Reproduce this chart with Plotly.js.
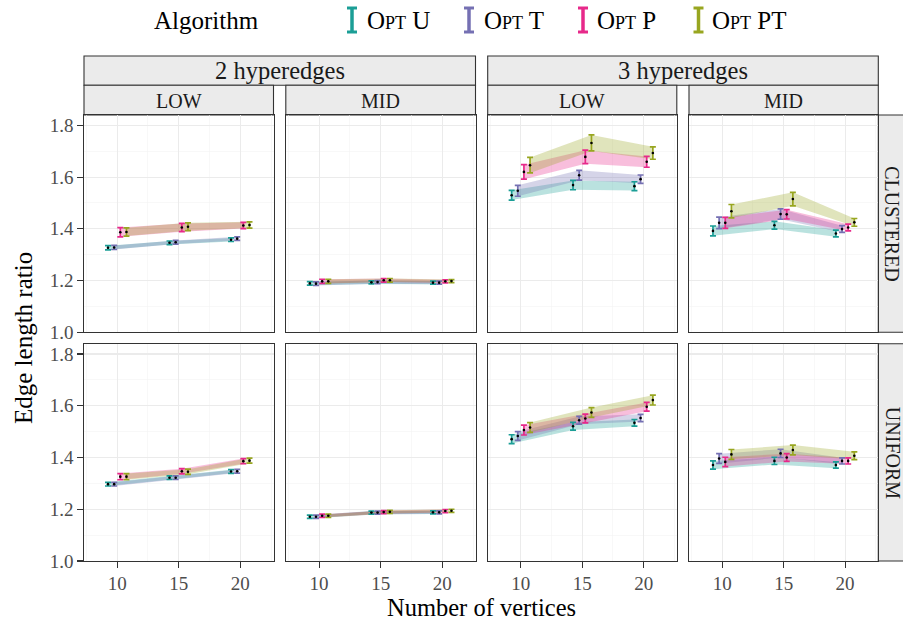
<!DOCTYPE html>
<html><head><meta charset="utf-8">
<script src="https://cdn.plot.ly/plotly-3.0.1.min.js"></script>
<style>html,body{margin:0;padding:0;background:#fff}#plot{width:903px;height:621px}</style>
</head><body><div id="plot"></div>
<script>
// ---------------- data ----------------
const algorithms = ['Opt U', 'Opt T', 'Opt P', 'Opt PT'];
const vertices = [10, 15, 20];
const hyperedgeLabels = ['2 hyperedges', '3 hyperedges'];
const densityLabels = ['LOW', 'MID'];
const distributionLabels = ['CLUSTERED', 'UNIFORM'];
const yTickValues = [1.0, 1.2, 1.4, 1.6, 1.8];
const xTickValues = [10, 15, 20];

// rows = algorithms (U, T, P, PT), columns = vertices (10, 15, 20)
const clustered2LowMean = [[1.327,1.346,1.358],[1.328,1.348,1.362],[1.387,1.405,1.413],[1.388,1.408,1.415]];
const clustered2LowErr  = [[0.008,0.007,0.007],[0.008,0.007,0.007],[0.018,0.016,0.012],[0.016,0.015,0.012]];
const clustered2MidMean = [[1.189,1.193,1.192],[1.188,1.194,1.192],[1.197,1.201,1.197],[1.197,1.201,1.198]];
const clustered2MidErr  = [[0.007,0.006,0.006],[0.007,0.006,0.006],[0.008,0.007,0.006],[0.008,0.007,0.006]];
const clustered3LowMean = [[1.530,1.569,1.565],[1.547,1.607,1.592],[1.620,1.678,1.659],[1.646,1.732,1.693]];
const clustered3LowErr  = [[0.019,0.018,0.017],[0.021,0.019,0.016],[0.028,0.026,0.021],[0.030,0.031,0.024]];
const clustered3MidMean = [[1.392,1.414,1.382],[1.423,1.457,1.399],[1.423,1.456,1.405],[1.468,1.515,1.425]];
const clustered3MidErr  = [[0.019,0.015,0.013],[0.022,0.020,0.013],[0.021,0.018,0.013],[0.026,0.026,0.015]];
const uniform2LowMean = [[1.297,1.322,1.346],[1.297,1.322,1.347],[1.326,1.347,1.386],[1.326,1.345,1.388]];
const uniform2LowErr  = [[0.007,0.007,0.007],[0.007,0.007,0.007],[0.012,0.010,0.010],[0.012,0.010,0.010]];
const uniform2MidMean = [[1.171,1.187,1.188],[1.171,1.187,1.188],[1.175,1.189,1.193],[1.175,1.190,1.194]];
const uniform2MidErr  = [[0.006,0.006,0.006],[0.006,0.006,0.006],[0.006,0.006,0.006],[0.006,0.006,0.006]];
const uniform3LowMean = [[1.471,1.521,1.534],[1.483,1.544,1.553],[1.506,1.551,1.596],[1.516,1.574,1.622]];
const uniform3LowErr  = [[0.017,0.015,0.013],[0.017,0.015,0.014],[0.019,0.017,0.017],[0.019,0.019,0.019]];
const uniform3MidMean = [[1.371,1.387,1.371],[1.396,1.416,1.387],[1.383,1.400,1.387],[1.412,1.429,1.407]];
const uniform3MidErr  = [[0.016,0.014,0.012],[0.019,0.016,0.012],[0.018,0.015,0.012],[0.019,0.019,0.015]];

// ---------------- styling ----------------
const W = 903, H = 621;
const FONT = 'Liberation Serif, Times New Roman, serif';
const colX = [[84,273.5],[285.8,475.5],[487.7,676.8],[689,878.3]];
const rowY = [[115,332.3],[343.7,561]];
const px = x => x / W, py = y => 1 - y / H;
const colors = ['#1B9E96', '#7570B3', '#E7298A', '#98A620'];
const dodge = [-0.75, -0.25, 0.25, 0.75];
function rgba(hex, a) {
  const n = parseInt(hex.slice(1), 16);
  return `rgba(${(n>>16)&255},${(n>>8)&255},${n&255},${a})`;
}

const panels = [
  {r:0,c:0,mean:clustered2LowMean,err:clustered2LowErr},
  {r:0,c:1,mean:clustered2MidMean,err:clustered2MidErr},
  {r:0,c:2,mean:clustered3LowMean,err:clustered3LowErr},
  {r:0,c:3,mean:clustered3MidMean,err:clustered3MidErr},
  {r:1,c:0,mean:uniform2LowMean,err:uniform2LowErr},
  {r:1,c:1,mean:uniform2MidMean,err:uniform2MidErr},
  {r:1,c:2,mean:uniform3LowMean,err:uniform3LowErr},
  {r:1,c:3,mean:uniform3MidMean,err:uniform3MidErr},
];

const traces = [];
const layout = {
  width: W, height: H,
  margin: {l:0, r:0, t:0, b:0},
  paper_bgcolor: '#fff', plot_bgcolor: '#fff',
  showlegend: false,
  font: {family: FONT, color: '#000'},
  shapes: [], annotations: []
};

panels.forEach(p => {
  const k = p.r * 4 + p.c + 1;
  const xa = 'x' + k, ya = 'y' + k;
  // ribbons
  algorithms.forEach((alg, i) => {
    const xs = vertices.map(v => v + dodge[i]);
    const hi = p.mean[i].map((m, j) => m + p.err[i][j]);
    const lo = p.mean[i].map((m, j) => m - p.err[i][j]);
    traces.push({
      type: 'scatter', mode: 'lines', xaxis: xa, yaxis: ya,
      x: xs.concat(xs.slice().reverse()),
      y: hi.concat(lo.slice().reverse()),
      fill: 'toself', fillcolor: rgba(colors[i], 0.3),
      line: {width: 0, color: 'rgba(0,0,0,0)'},
      hoverinfo: 'skip', name: alg
    });
  });
  // error bars + points
  algorithms.forEach((alg, i) => {
    traces.push({
      type: 'scatter', mode: 'markers', xaxis: xa, yaxis: ya,
      x: vertices.map(v => v + dodge[i]), y: p.mean[i],
      marker: {color: '#000', size: 2.6},
      error_y: {type: 'data', array: p.err[i], visible: true, color: colors[i], thickness: 1.7, width: 3},
      name: alg
    });
  });
  const bottom = p.r === 1, left = p.c === 0;
  layout['xaxis' + (k === 1 ? '' : k)] = {
    domain: [px(colX[p.c][0]), px(colX[p.c][1])], anchor: ya,
    range: [7.3, 22.7], tickmode: 'array', tickvals: xTickValues,
    ticktext: xTickValues.map(String),
    showticklabels: bottom, ticks: bottom ? 'outside' : '', ticklen: 5.5,
    tickcolor: '#333333', tickwidth: 1.1,
    tickfont: {family: FONT, size: 19, color: '#4D4D4D'},
    showgrid: true, gridcolor: '#EBEBEB', gridwidth: 1.1,
    minor: {tickmode: 'array', tickvals: [7.5, 12.5, 17.5, 22.5], showgrid: true, gridcolor: '#F4F4F4', gridwidth: 0.6},
    showline: true, mirror: true, linecolor: '#333333', linewidth: 1.1,
    zeroline: false, fixedrange: true
  };
  layout['yaxis' + (k === 1 ? '' : k)] = {
    domain: [py(rowY[p.r][1]), py(rowY[p.r][0])], anchor: xa,
    range: [1.0, 1.84], tickmode: 'array', tickvals: yTickValues,
    ticktext: yTickValues.map(v => v.toFixed(1)),
    showticklabels: left, ticks: left ? 'outside' : '', ticklen: 5.5,
    tickcolor: '#333333', tickwidth: 1.1,
    tickfont: {family: FONT, size: 19, color: '#4D4D4D'},
    showgrid: true, gridcolor: '#EBEBEB', gridwidth: 1.1,
    minor: {tickmode: 'array', tickvals: [1.1, 1.3, 1.5, 1.7], showgrid: true, gridcolor: '#F4F4F4', gridwidth: 0.6},
    showline: true, mirror: true, linecolor: '#333333', linewidth: 1.1,
    zeroline: false, fixedrange: true
  };
});

// strips
const stripFill = '#EBEBEB', stripLine = '#333333';
function rect(x0, y0, x1, y1) {
  layout.shapes.push({type: 'rect', xref: 'paper', yref: 'paper',
    x0: px(x0), x1: px(x1), y0: py(y1), y1: py(y0),
    fillcolor: stripFill, line: {color: stripLine, width: 1.1}, layer: 'below'});
}
function label(text, x, y, size, angle, extra) {
  layout.annotations.push(Object.assign({
    text: text, xref: 'paper', yref: 'paper', x: px(x), y: py(y),
    xanchor: 'center', yanchor: 'middle', showarrow: false,
    textangle: angle || 0, font: {family: FONT, size: size, color: '#1A1A1A'}
  }, extra || {}));
}
hyperedgeLabels.forEach((t, h) => {
  const x0 = colX[2*h][0], x1 = colX[2*h+1][1];
  rect(x0, 56, x1, 85.3);
  label(t, (x0 + x1) / 2, 70.8, 24.5);
});
for (let c = 0; c < 4; c++) {
  rect(colX[c][0], 85.3, colX[c][1], 115);
  label(densityLabels[c % 2], (colX[c][0] + colX[c][1]) / 2, 100.5, 20);
}
distributionLabels.forEach((t, r) => {
  rect(878.3, rowY[r][0], 915, rowY[r][1]);
  label(t, 892.5, (rowY[r][0] + rowY[r][1]) / 2, 20, 90);
});

// axis titles
label('Number of vertices', 481, 607.5, 24.5, 0, {font: {family: FONT, size: 24.5, color: '#000'}, borderpad: 0});
label('Edge length ratio', 23, 338, 25, -90, {font: {family: FONT, size: 25, color: '#000'}, borderpad: 0});

// legend
label('Algorithm', 152, 20, 25, 0, {xanchor: 'left', font: {family: FONT, size: 25, color: '#000'}});
const legendGlyphX = [352, 469, 583, 698.5];
const legendTextX = [365, 481.5, 595, 710];
algorithms.forEach((alg, i) => {
  const gx = legendGlyphX[i];
  layout.shapes.push({type: 'line', xref: 'paper', yref: 'paper', x0: px(gx), x1: px(gx), y0: py(8), y1: py(32), line: {color: colors[i], width: 3.5}});
  layout.shapes.push({type: 'line', xref: 'paper', yref: 'paper', x0: px(gx-5), x1: px(gx+5), y0: py(8), y1: py(8), line: {color: colors[i], width: 3}});
  layout.shapes.push({type: 'line', xref: 'paper', yref: 'paper', x0: px(gx-5), x1: px(gx+5), y0: py(32), y1: py(32), line: {color: colors[i], width: 3}});
  label(alg, legendTextX[i], 20, 25, 0, {xanchor: 'left', font: {family: FONT, size: 25, color: '#000', variant: 'small-caps'}});
});

Plotly.newPlot('plot', traces, layout, {staticPlot: true, displayModeBar: false});
</script>
</body></html>
